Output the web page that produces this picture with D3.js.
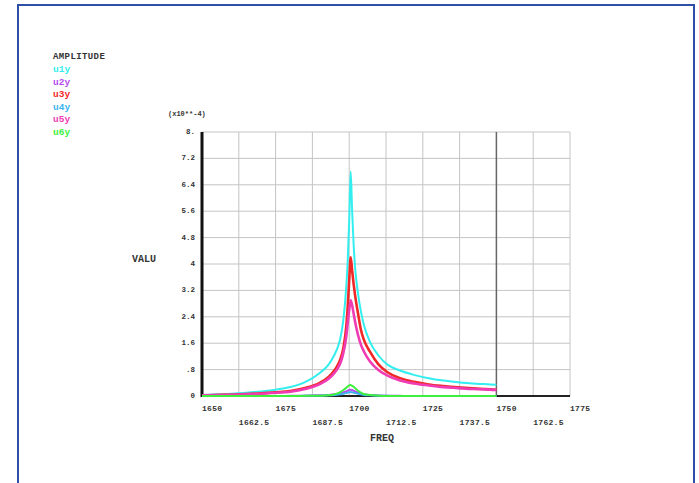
<!DOCTYPE html>
<html><head><meta charset="utf-8">
<script src="https://cdn.jsdelivr.net/npm/d3@7"></script>
<style>body{margin:0;background:#fff}svg{display:block}text{font-family:"Liberation Mono","DejaVu Sans Mono",monospace;font-weight:bold;fill:#333}</style>
</head><body>
<script>
const freq = [1650,1655,1660,1665,1670,1675,1680,1685,1690,1693,1695,1696,1697,1698,1699,1699.5,1700,1700.5,1701,1701.5,1702,1703,1704,1705,1707,1710,1713,1717,1722,1727,1732,1737,1742,1746,1750];
const u1y = [0.03,0.05,0.07,0.10,0.14,0.19,0.27,0.42,0.70,0.95,1.25,1.45,1.75,2.30,3.30,4.10,5.30,6.80,5.60,4.60,3.90,3.10,2.55,2.15,1.65,1.22,0.95,0.78,0.64,0.54,0.47,0.42,0.38,0.36,0.34];
const u2y = [0,0,0,0,0,0,0.005,0.01,0.02,0.03,0.05,0.06,0.08,0.11,0.14,0.16,0.18,0.19,0.18,0.16,0.14,0.10,0.07,0.05,0.03,0.015,0.01,0.005,0,0,0,0,0,0,0];
const u3y = [0.02,0.03,0.04,0.06,0.08,0.11,0.15,0.24,0.40,0.58,0.78,0.92,1.12,1.45,2.10,2.70,3.50,4.20,3.80,3.40,3.05,2.50,2.00,1.70,1.35,0.95,0.72,0.55,0.43,0.35,0.30,0.26,0.23,0.21,0.19];
const u4y = [0,0,0,0,0,0,0,0.005,0.01,0.02,0.03,0.04,0.05,0.07,0.09,0.10,0.11,0.12,0.11,0.10,0.09,0.07,0.05,0.03,0.02,0.01,0.005,0,0,0,0,0,0,0,0];
const u5y = [0.02,0.03,0.035,0.05,0.07,0.10,0.13,0.21,0.36,0.52,0.70,0.82,1.00,1.30,1.80,2.20,2.60,2.90,2.75,2.50,2.25,1.85,1.55,1.35,1.05,0.78,0.62,0.48,0.38,0.32,0.27,0.24,0.21,0.20,0.18];
const u6y = [0,0,0,0,0,0,0,0.005,0.01,0.02,0.05,0.08,0.12,0.18,0.25,0.29,0.32,0.33,0.31,0.28,0.24,0.16,0.10,0.06,0.03,0.01,0,0,0,0,0,0,0,0,0];
const seriesNames = ["u1y","u2y","u3y","u4y","u5y","u6y"];
const seriesColors = ["#33eeee","#b44cf0","#f02828","#3cb4f0","#f03cb4","#3cf03c"];
const yTicks = [0,0.8,1.6,2.4,3.2,4,4.8,5.6,6.4,7.2,8];
const yTickLabels = ["0",".8","1.6","2.4","3.2","4","4.8","5.6","6.4","7.2","8."];
const xTicksUpper = [1650,1675,1700,1725,1750,1775];
const xTicksLower = [1662.5,1687.5,1712.5,1737.5,1762.5];
const xGrid = [1662.5,1675,1687.5,1700,1712.5,1725,1737.5,1750,1762.5,1775];
const series = [u1y,u2y,u3y,u4y,u5y,u6y];

const W=699,H=483;
const svg=d3.select("body").append("svg").attr("width",W).attr("height",H);
svg.append("rect").attr("x",18).attr("y",5).attr("width",676).attr("height",490)
  .attr("fill","none").attr("stroke","#2d4fa8").attr("stroke-width",2);

const L=202,R=570,T=132,B=396;
const x=d3.scaleLinear().domain([1650,1775]).range([L,R]);
const y=d3.scaleLinear().domain([0,8]).range([B,T]);

// grid
svg.append("g").selectAll("line").data(yTicks.slice(1)).join("line")
  .attr("x1",L).attr("x2",R).attr("y1",d=>y(d)).attr("y2",d=>y(d))
  .attr("stroke","#c4c4c4").attr("stroke-width",1);
svg.append("g").selectAll("line").data(xGrid).join("line")
  .attr("x1",d=>x(d)).attr("x2",d=>x(d)).attr("y1",T).attr("y2",B)
  .attr("stroke",d=>d===1750?"#666":"#c4c4c4").attr("stroke-width",d=>d===1750?1.5:1);

// axes lines
svg.append("line").attr("x1",L).attr("x2",R).attr("y1",B).attr("y2",B).attr("stroke","#222").attr("stroke-width",2);
svg.append("line").attr("x1",L).attr("x2",L).attr("y1",T).attr("y2",B+1).attr("stroke","#111").attr("stroke-width",3);

// y labels
svg.append("g").selectAll("text").data(yTicks).join("text")
  .attr("x",L-7).attr("y",(d)=>y(d)+2).attr("text-anchor","end")
  .attr("font-size",7.5).text((d,i)=>yTickLabels[i]);
// x labels
svg.append("g").selectAll("text").data(xTicksUpper).join("text")
  .attr("x",d=>x(d)).attr("y",411).attr("font-size",8).attr("letter-spacing",0.3).text(d=>d);
svg.append("g").selectAll("text").data(xTicksLower).join("text")
  .attr("x",d=>x(d)).attr("y",425).attr("font-size",8).attr("letter-spacing",0.3).text(d=>d.toFixed(1));

svg.append("text").attr("x",370).attr("y",441).attr("font-size",10).text("FREQ");
svg.append("text").attr("x",132).attr("y",262).attr("font-size",10).text("VALU");
svg.append("text").attr("x",168).attr("y",116).attr("font-size",7).text("(x10**-4)");

// legend
svg.append("text").attr("x",53).attr("y",59).attr("font-size",9).attr("letter-spacing",0.4).attr("fill","#222").text("AMPLITUDE");
svg.append("g").selectAll("text").data(seriesNames).join("text")
  .attr("x",53).attr("y",(d,i)=>72+i*12.6).attr("font-size",9.5)
  .style("fill",(d,i)=>seriesColors[i]).text(d=>d);

// curves
const line=d3.line().x((d,i)=>x(freq[i])).y(d=>y(d)).curve(d3.curveMonotoneX);
svg.append("g").selectAll("path").data(series).join("path")
  .attr("d",d=>line(d)).attr("fill","none")
  .attr("stroke",(d,i)=>seriesColors[i])
  .attr("stroke-width",(d,i)=>(i===2||i===4)?2.6:2);
</script>
</body></html>
